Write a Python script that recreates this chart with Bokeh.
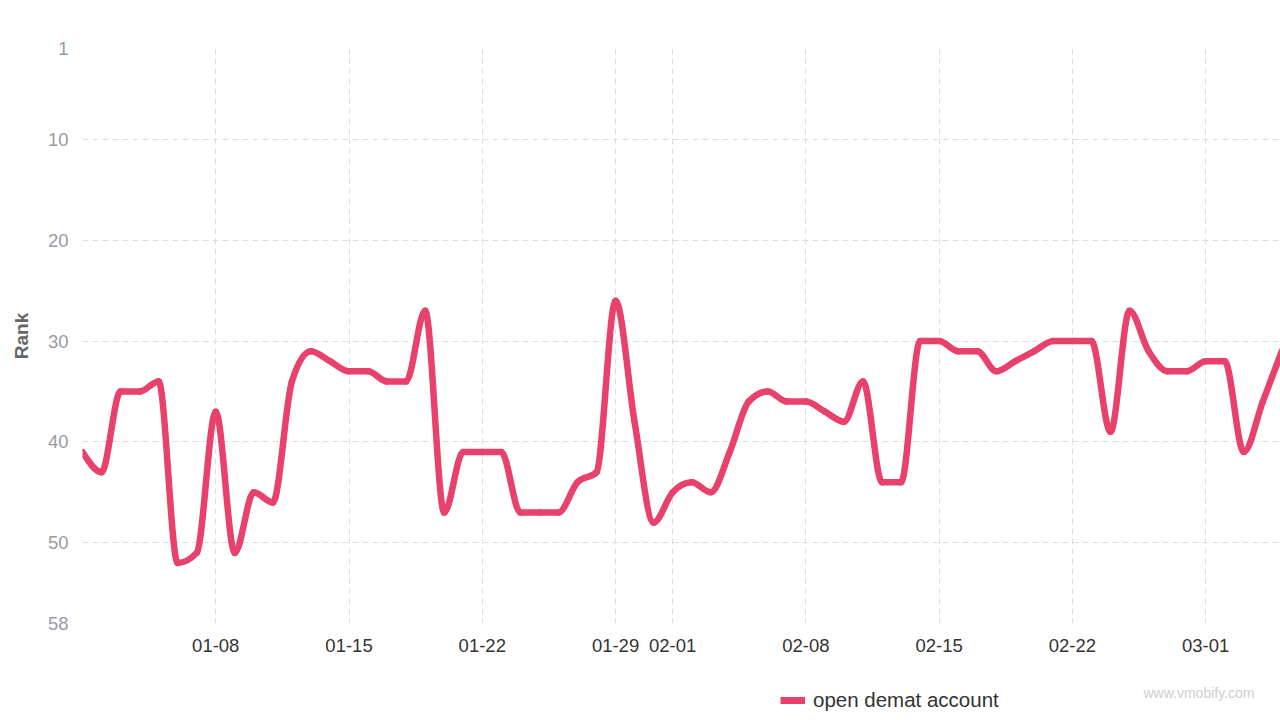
import numpy as np
import pandas as pd
from bokeh.plotting import figure
from bokeh.layouts import column
from bokeh.models import (Range1d, FixedTicker, DatetimeTickFormatter, Legend,
                          LegendItem, Label, ColumnDataSource)
from bokeh.embed import file_html
from bokeh.resources import INLINE

# ---------------- data ----------------
start_date = "2023-01-01"
n_days = 64
ranks = [41, 43, 35, 35, 34, 52, 51, 37, 51, 45,
         46, 34, 31, 32, 33, 33, 34, 34, 27, 47,
         41, 41, 41, 47, 47, 47, 44, 43, 26, 38,
         48, 45, 44, 45, 41, 36, 35, 36, 36, 37,
         38, 34, 44, 44, 30, 30, 31, 31, 33, 32,
         31, 30, 30, 30, 39, 27, 31, 33, 33, 32,
         32, 41, 36, 31]
series_name = "open demat account"
x_tick_dates = ["2023-01-08", "2023-01-15", "2023-01-22", "2023-01-29", "2023-02-01",
                "2023-02-08", "2023-02-15", "2023-02-22", "2023-03-01"]
x_tick_labels = ["01-08", "01-15", "01-22", "01-29", "02-01",
                 "02-08", "02-15", "02-22", "03-01"]
y_ticks = [1, 10, 20, 30, 40, 50, 58]
y_label = "Rank"
watermark = "www.vmobify.com"

# ---------------- helpers ----------------
DAY = 86400000.0
def to_ms(s):
    return pd.Timestamp(s).timestamp() * 1000.0

dates = pd.date_range(start_date, periods=n_days, freq="D")
xs = np.array([d.timestamp() * 1000.0 for d in dates])
ys = np.array(ranks, dtype=float)

# monotone cubic tangents (per day) for a smooth line through the points
s = np.diff(ys)
m = np.zeros_like(ys)
for i in range(1, len(ys) - 1):
    s0, s1 = s[i - 1], s[i]
    if s0 * s1 <= 0:
        m[i] = 0.0
    else:
        p_ = 0.5 * (s0 + s1)
        m[i] = (np.sign(s0) + np.sign(s1)) * min(abs(s0), abs(s1), 0.5 * abs(p_))
m[0] = (3 * s[0] - m[1]) / 2 if s[0] * (3 * s[0] - m[1]) > 0 else 0.0
m[-1] = (3 * s[-1] - m[-2]) / 2 if s[-1] * (3 * s[-1] - m[-2]) > 0 else 0.0

src = ColumnDataSource(dict(
    x0=xs[:-1], y0=ys[:-1], x1=xs[1:], y1=ys[1:],
    cx0=xs[:-1] + DAY / 3, cy0=ys[:-1] + m[:-1] / 3,
    cx1=xs[1:] - DAY / 3, cy1=ys[1:] - m[1:] / 3,
))
pts = ColumnDataSource(dict(x=xs, y=ys))

x_start = to_ms(start_date)
x_end = x_start + 62.93 * DAY

FONT = "Liberation Sans"
LINE_COLOR = "#e8416b"

MAIN_H = 670
LEG_H = 720 - MAIN_H

p = figure(width=1280, height=MAIN_H, output_backend="svg", toolbar_location=None,
           x_axis_type="datetime",
           x_range=Range1d(x_start, x_end), y_range=Range1d(58, 1),
           min_border_left=82, min_border_right=0, min_border_top=48,
           min_border_bottom=MAIN_H - 623)
p.outline_line_color = None
p.background_fill_color = "white"
p.border_fill_color = "white"

r = p.bezier(x0="x0", y0="y0", x1="x1", y1="y1", cx0="cx0", cy0="cy0",
             cx1="cx1", cy1="cy1", source=src, line_color=LINE_COLOR,
             line_width=6.5, line_cap="round", line_join="round")

# axes
x_ticks_ms = [to_ms(d) for d in x_tick_dates]
p.xaxis.ticker = FixedTicker(ticks=x_ticks_ms)
p.xaxis.formatter = DatetimeTickFormatter(days="%m-%d", months="%m-%d", hours="%m-%d",
                                          years="%m-%d")
p.xaxis.major_label_overrides = {t: lab for t, lab in zip(x_ticks_ms, x_tick_labels)}
p.yaxis.ticker = FixedTicker(ticks=y_ticks)

for ax in (p.xaxis[0], p.yaxis[0]):
    ax.axis_line_color = None
    ax.major_tick_line_color = None
    ax.minor_tick_line_color = None
    ax.major_tick_out = 0
    ax.major_tick_in = 0
    ax.major_label_text_font = FONT
    ax.major_label_text_font_size = "18.5px"

p.xaxis.major_label_text_color = "#333333"
p.xaxis.major_label_standoff = 15
p.yaxis.major_label_text_color = "#9a9aa3"
p.yaxis.major_label_standoff = 14
p.yaxis.axis_label = y_label
p.yaxis.axis_label_text_font = FONT
p.yaxis.axis_label_text_font_style = "bold"
p.yaxis.axis_label_text_font_size = "19px"
p.yaxis.axis_label_text_color = "#666666"
p.yaxis.axis_label_standoff = 13

# grids
p.xgrid.ticker = FixedTicker(ticks=[x_start] + x_ticks_ms)
for g in (p.xgrid[0], p.ygrid[0]):
    g.grid_line_color = "#dedede"
    g.grid_line_dash = "6 4"
    g.grid_line_width = 1

# ---------------- legend strip ----------------
# (its frame is aligned with the main frame, which starts 82px from the left)
FRAME_LEFT = 82
p2 = figure(width=1280, height=LEG_H, output_backend="svg", toolbar_location=None,
            x_range=Range1d(0, 1198), y_range=Range1d(0, LEG_H),
            x_axis_location=None, y_axis_location=None,
            min_border=0, min_border_left=0, min_border_right=0,
            min_border_top=0, min_border_bottom=0)
p2.outline_line_color = None
p2.xgrid.visible = False
p2.ygrid.visible = False
p2.background_fill_color = "white"
p2.border_fill_color = "white"

# same series drawn in the strip (its dates lie far outside this strip's range,
# so only its legend swatch shows)
proxy = p2.line(x="x", y="y", source=pts, line_color=LINE_COLOR, line_width=7,
                line_cap="butt")

legend = Legend(items=[LegendItem(label=series_name, renderers=[proxy])],
                location=(780 - FRAME_LEFT, LEG_H - (700 - MAIN_H) - 12),
                orientation="horizontal",
                border_line_color=None, background_fill_alpha=0,
                padding=0, margin=0, glyph_width=25, glyph_height=24,
                label_standoff=8, label_height=24, label_text_font=FONT,
                label_text_font_size="20.5px", label_text_color="#333333",
                label_text_baseline="middle")
p2.add_layout(legend, "center")

p2.add_layout(Label(x=1143 - FRAME_LEFT, y=LEG_H - (692 - MAIN_H),
                    x_units="screen", y_units="screen",
                    text=watermark, text_font=FONT, text_font_size="14px",
                    text_color="#cfcfcf", text_baseline="middle"))

layout = column(p, p2, spacing=0)
open("out.html", "w").write(file_html(layout, INLINE))
